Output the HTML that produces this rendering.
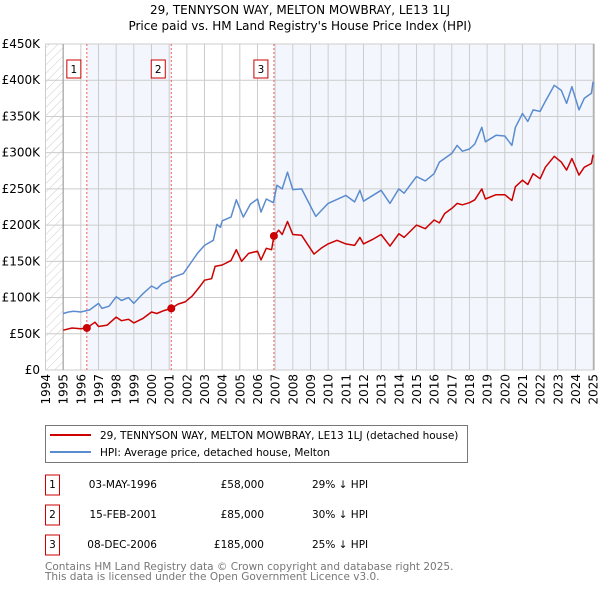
<!DOCTYPE html>
<html><head><meta charset="utf-8"><style>
body{margin:0;background:#fff;font-family:"DejaVu Sans","Liberation Sans",sans-serif}
svg{display:block}
</style></head><body>
<svg id="c" width="600" height="590" xmlns="http://www.w3.org/2000/svg" font-family="DejaVu Sans, Liberation Sans, sans-serif">
<defs><pattern id="hatch" width="6" height="6" patternUnits="userSpaceOnUse" patternTransform="rotate(45)"><line x1="0" y1="0" x2="0" y2="6" stroke="#ccc" stroke-width="1"/></pattern></defs>
<text x="300" y="14" text-anchor="middle" font-size="12">29, TENNYSON WAY, MELTON MOWBRAY, LE13 1LJ</text>
<text x="300" y="30" text-anchor="middle" font-size="12">Price paid vs. HM Land Registry's House Price Index (HPI)</text>
<g id="plot"></g>
<g>
<rect x="45.5" y="425.5" width="422" height="37" fill="#fff" stroke="#777"/>
<line x1="50" y1="435" x2="91" y2="435" stroke="#cc0000" stroke-width="2"/>
<text x="100" y="439" font-size="10.5">29, TENNYSON WAY, MELTON MOWBRAY, LE13 1LJ (detached house)</text>
<line x1="50" y1="452" x2="91" y2="452" stroke="#5b8ccf" stroke-width="2"/>
<text x="100" y="456" font-size="10.5">HPI: Average price, detached house, Melton</text>
</g>
<g id="table" font-size="10.5"></g>
<text x="45" y="570" font-size="10.5" fill="#777">Contains HM Land Registry data © Crown copyright and database right 2025.</text>
<text x="45" y="580" font-size="10.5" fill="#777">This data is licensed under the Open Government Licence v3.0.</text>
</svg>
<script>
const hpiT=[1995,1995.3,1995.6,1996,1996.5,1997,1997.2,1997.6,1998,1998.3,1998.7,1999,1999.5,2000,2000.3,2000.6,2001,2001.2,2001.8,2002.2,2002.6,2003,2003.5,2003.7,2003.9,2004,2004.5,2004.8,2005.2,2005.6,2006,2006.2,2006.5,2006.9,2007.1,2007.4,2007.7,2008,2008.5,2009.3,2010,2011,2011.5,2011.8,2012,2013,2013.5,2014,2014.3,2015,2015.5,2016,2016.3,2017,2017.3,2017.6,2018,2018.3,2018.7,2018.9,2019.5,2020,2020.4,2020.6,2021,2021.3,2021.6,2022,2022.3,2022.8,2023.2,2023.5,2023.8,2024.2,2024.5,2024.9,2025];
const hpiV=[78,80,81,80,83,92,85,88,101,96,100,92,105,116,112,119,123,128,133,147,161,172,179,201,197,206,211,235,211,229,236,218,236,231,255,250,273,249,250,212,230,241,232,248,233,248,230,250,244,267,261,271,287,299,310,302,305,312,335,315,324,323,310,335,354,343,359,357,371,393,386,368,391,359,375,382,398];
const ppT=[1995,1995.5,1996,1996.34,1996.8,1997,1997.5,1998,1998.3,1998.7,1999,1999.5,2000,2000.3,2000.7,2001.12,2001.5,2001.9,2002.3,2002.7,2003,2003.4,2003.6,2004,2004.5,2004.8,2005.1,2005.5,2006,2006.2,2006.5,2006.8,2006.93,2007.2,2007.4,2007.7,2008,2008.5,2009.2,2009.6,2010,2010.5,2011,2011.5,2011.8,2012,2012.5,2013,2013.5,2014,2014.3,2015,2015.5,2016,2016.3,2016.6,2017,2017.3,2017.6,2018,2018.3,2018.7,2018.9,2019.5,2020,2020.4,2020.6,2021,2021.3,2021.6,2022,2022.3,2022.8,2023.2,2023.5,2023.8,2024.2,2024.5,2024.9,2025];
const ppV=[55,58,57,58,66,60,62,73,68,70,65,71,80,78,82,85,91,94,102,114,124,126,143,145,151,166,150,161,164,152,168,166,185,193,187,205,187,186,160,168,174,179,174,172,183,174,180,187,171,188,183,200,195,207,203,216,223,230,228,231,235,250,236,242,242,234,253,262,256,271,264,280,295,287,276,292,269,280,285,297];
const saleT=[1996.34,2001.12,2006.93];
const saleV=[58,85,185];
const saleLabels=["1","2","3"];
const saleDates=["03-MAY-1996","15-FEB-2001","08-DEC-2006"];
const salePrices=["£58,000","£85,000","£185,000"];
const salePct=["29% ↓ HPI","30% ↓ HPI","25% ↓ HPI"];
const yTicks=[0,50,100,150,200,250,300,350,400,450];
const yTickLabels=["£0","£50K","£100K","£150K","£200K","£250K","£300K","£350K","£400K","£450K"];
const years=[];for(let y=1994;y<=2025;y++)years.push(y);

const NS="http://www.w3.org/2000/svg";
const X0=45.5,X1=594,T0=1994,T1=2025.05,Y0=370,Y1=44,VMAX=450;
const xs=t=>X0+(t-T0)/(T1-T0)*(X1-X0);
const ys=v=>Y0-v/VMAX*(Y0-Y1);
const plot=document.getElementById('plot');
function mk(tag,attrs,parent){const e=document.createElementNS(NS,tag);for(const k in attrs)e.setAttribute(k,attrs[k]);(parent||plot).appendChild(e);return e;}
// shading
let e;
e=mk('rect',{x:xs(saleT[0]),y:Y1,width:xs(saleT[1])-xs(saleT[0]),height:Y0-Y1,fill:'#eef3fc',opacity:0.7});


e=mk('rect',{x:xs(saleT[2]),y:Y1,width:X1-xs(saleT[2]),height:Y0-Y1,fill:'#eef3fc',opacity:0.7});


e=mk('rect',{x:X0,y:Y1,width:xs(1995)-X0,height:Y0-Y1,fill:'url(#hatch)'});


// grid
yTicks.forEach((v,i)=>{
 e=mk('line',{x1:X0,x2:X1,y1:ys(v),y2:ys(v),stroke:'#ccc','stroke-width':1});
 
 
 e=mk('text',{x:40,y:ys(v)+4,'text-anchor':'end','font-size':12});
 e.textContent=yTickLabels[i];
 
 
});
years.forEach(y=>{
 e=mk('line',{x1:xs(y),x2:xs(y),y1:Y1,y2:Y0,stroke:'#ccc','stroke-width':1});
 
 
 e=mk('text',{x:0,y:0,'text-anchor':'end','font-size':12,transform:`translate(${xs(y)+4.5},374) rotate(-90)`});
 e.textContent=String(y);
 
 
});
e=mk('rect',{x:X0,y:Y1,width:X1-X0,height:Y0-Y1,fill:'none',stroke:'#ccc'});


e=mk('line',{x1:xs(1995),x2:xs(1995),y1:Y1,y2:Y0,stroke:'#999'});


e=mk('line',{x1:X1,x2:X1,y1:Y1,y2:Y0,stroke:'#999'});


// sale lines
saleT.forEach((t,i)=>{
 e=mk('line',{x1:xs(t),x2:xs(t),y1:Y1,y2:Y0,stroke:'#f06060','stroke-dasharray':'2,2','stroke-width':1});
 
 
 const g=mk('g',{});
 
 
 mk('rect',{x:xs(t)-20,y:60,width:14,height:18,fill:'#fff',stroke:'#cc0000'},g);
 const tx=mk('text',{x:xs(t)-13,y:73,'text-anchor':'middle','font-size':10.5},g);
 tx.textContent=saleLabels[i];
});
function line(T,V,color,name){
 const d=T.map((t,i)=>(i?'L':'M')+xs(t).toFixed(1)+','+ys(V[i]).toFixed(1)).join('');
 e=mk('path',{d:d,fill:'none',stroke:color,'stroke-width':1.5,'stroke-linejoin':'round'});
 
 
}
line(hpiT,hpiV,'#5b8ccf','hpi-line');
line(ppT,ppV,'#cc0000','price-paid-line');
saleT.forEach((t,i)=>{
 e=mk('circle',{cx:xs(t),cy:ys(saleV[i]),r:4,fill:'#cc0000'});
 
 
});
// table
const tb=document.getElementById('table');
saleT.forEach((t,i)=>{
 const yc=485+i*30;
 const g=mk('g',{},tb);
 
 
 mk('rect',{x:45.5,y:yc-10,width:14,height:20,fill:'#fff',stroke:'#cc0000'},g);
 let tx=mk('text',{x:52.5,y:yc+3,'text-anchor':'middle'},g);tx.textContent=saleLabels[i];
 tx=mk('text',{x:157,y:yc+3,'text-anchor':'end'},g);tx.textContent=saleDates[i];
 tx=mk('text',{x:264,y:yc+3,'text-anchor':'end'},g);tx.textContent=salePrices[i];
 tx=mk('text',{x:312,y:yc+3},g);tx.textContent=salePct[i];
});
</script>
</body></html>
